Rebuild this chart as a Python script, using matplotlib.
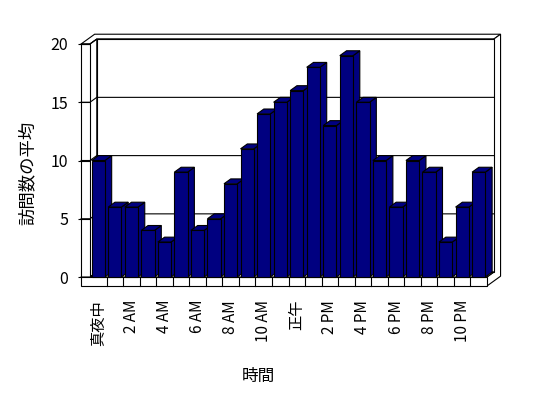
import matplotlib
matplotlib.use("Agg")
import matplotlib.pyplot as plt
from matplotlib.patches import Polygon

plt.rcParams['font.family'] = ['Noto Sans CJK JP', 'DejaVu Sans']

# 時間帯ごとの訪問数の平均（24時間）
visits = [10, 6, 6, 4, 3, 9, 4, 5, 8, 11, 14, 15,
          16, 18, 13, 19, 15, 10, 6, 10, 9, 3, 6, 9]
tick_labels = ["真夜中", "2 AM", "4 AM", "6 AM", "8 AM", "10 AM",
               "正午", "2 PM", "4 PM", "6 PM", "8 PM", "10 PM"]
y_ticks = [0, 5, 10, 15, 20]

n = len(visits)
ymax = 20
# 疑似3D: 奥行き方向のずれ（データ単位）
dx, dy = 0.41, 0.42
tw = 0.54   # 左壁の厚み
tf = 0.77   # 床の厚み
gap = 0.1
bar_color = "#000080"
lw = 0.8


def P(x, y, z=0.0):
    return (x + z * dx, y + z * dy)


def face(ax, pts, fc="white", z=1.0):
    ax.add_patch(Polygon(pts, closed=True, facecolor=fc, edgecolor="black",
                         linewidth=lw, clip_on=False, zorder=z,
                         joinstyle="miter"))


fig = plt.figure(figsize=(5.48, 3.98), dpi=100)
ax = fig.add_axes([90 / 548, 121 / 398, 397 / 548, 233 / 398])
ax.set_xlim(0, n)
ax.set_ylim(0, ymax)
ax.patch.set_visible(False)
for s in ax.spines.values():
    s.set_visible(False)

# 壁と床
face(ax, [P(-tw, ymax, 0), P(0, ymax, 0), P(0, ymax, 1), P(n, ymax, 1),
          P(n, ymax, 2), P(-tw, ymax, 2)], z=1.0)
face(ax, [P(n, -tf, 0), P(n, -tf, 2), P(n, ymax, 2), P(n, ymax, 1),
          P(n, 0, 1), P(n, 0, 0)], z=1.0)
face(ax, [P(0, 0, 1), P(n, 0, 1), P(n, ymax, 1), P(0, ymax, 1)], z=1.0)
face(ax, [P(0, 0, 0), P(0, 0, 1), P(0, ymax, 1), P(0, ymax, 0)], z=1.0)
face(ax, [P(0, 0, 0), P(n, 0, 0), P(n, 0, 1), P(0, 0, 1)], z=1.0)
face(ax, [P(-tw, -tf), P(n, -tf), P(n, 0), P(0, 0), P(0, ymax),
          P(-tw, ymax)], z=1.0)

# 目盛線（左壁から奥の壁へ）
for v in y_ticks:
    xs, ys = zip(P(-tw, v), P(0, v), P(0, v, 1), P(n, v, 1))
    ax.plot(xs, ys, color="black", lw=lw, clip_on=False, zorder=1.1)

# 床の区切り
for c in range(1, n):
    ax.plot([c, c], [-tf, 0], color="black", lw=lw, clip_on=False, zorder=1.1)

# 棒（左から順に描いて重なりを表現）
for i, v in enumerate(visits):
    x0, x1 = i + gap, i + 1 - gap
    zb = 1.2 + i * 0.01
    face(ax, [P(x1, 0), P(x1, 0, 1), P(x1, v, 1), P(x1, v)], bar_color, zb)
    face(ax, [P(x0, v), P(x1, v), P(x1, v, 1), P(x0, v, 1)], bar_color, zb)
    face(ax, [P(x0, 0), P(x1, 0), P(x1, v), P(x0, v)], bar_color, zb)

ax.set_axisbelow(False)
ax.set_yticks(y_ticks)
ax.tick_params(axis="y", direction="out", length=8.6, width=lw, pad=7.2,
               labelsize=11.5)
ax.set_xticks([c + 0.5 for c in range(0, n, 2)])
ax.set_xticklabels(tick_labels, rotation=90)
ax.tick_params(axis="x", length=0, pad=16.5, labelsize=11)

ax.set_xlabel("時間", fontsize=12)
ax.xaxis.set_label_coords((258 - 90) / 397, (277 - 376) / 233)
ax.xaxis.label.set_verticalalignment("center")
ax.set_ylabel("訪問数の平均", fontsize=12.5)
ax.yaxis.set_label_coords((28 - 90) / 397, (277 - 173) / 233)
ax.yaxis.label.set_verticalalignment("center")

fig.savefig("out.png", dpi=100, facecolor="white")
